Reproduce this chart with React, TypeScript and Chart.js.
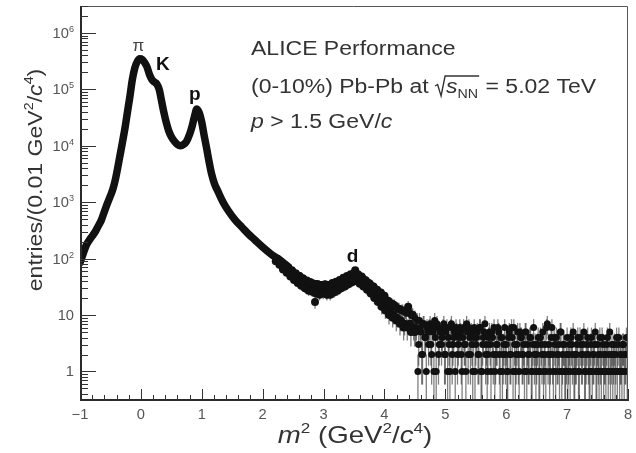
import React, { useEffect, useRef } from "react";
import { Chart, registerables } from "chart.js";

Chart.register(...registerables);

const FONT = "'Liberation Sans', Arial, Helvetica, sans-serif";

// smooth high-statistics part of the m^2 distribution
const mainX = [-1.0, -0.95, -0.9, -0.85, -0.8, -0.75, -0.7, -0.65, -0.6, -0.55, -0.5, -0.46, -0.42, -0.38, -0.34, -0.3, -0.26, -0.22, -0.18, -0.14, -0.1, -0.06, -0.02, 0.02, 0.06, 0.1, 0.14, 0.18, 0.22, 0.26, 0.3, 0.34, 0.38, 0.42, 0.46, 0.5, 0.55, 0.6, 0.65, 0.7, 0.75, 0.8, 0.84, 0.88, 0.92, 0.96, 1.0, 1.04, 1.08, 1.12, 1.16, 1.21, 1.26, 1.35, 1.43, 1.55, 1.66, 1.77, 1.87, 2.0, 2.14, 2.28, 2.42];
const mainY = [85, 120, 170, 210, 250, 300, 380, 480, 680, 950, 1300, 1700, 2500, 4100, 7000, 12000, 21000, 40000, 75000, 150000, 240000, 310000, 350000, 340000, 300000, 250000, 185000, 150000, 135000, 125000, 100000, 62000, 38000, 25000, 18000, 14500, 12000, 10500, 10000, 10500, 12000, 16000, 22000, 33000, 45000, 38000, 26000, 15000, 9000, 5200, 3200, 2100, 1600, 1000, 720, 480, 360, 270, 215, 160, 120, 95, 72];

// lower-statistics region around the deuteron peak (two interleaved bin sets)
const midX = [2.3, 2.33, 2.36, 2.39, 2.42, 2.45, 2.48, 2.51, 2.54, 2.57, 2.6, 2.63, 2.66, 2.69, 2.72, 2.75, 2.78, 2.81, 2.84, 2.86, 2.87, 2.9, 2.93, 2.96, 2.99, 3.02, 3.05, 3.08, 3.11, 3.14, 3.17, 3.2, 3.23, 3.26, 3.29, 3.32, 3.35, 3.38, 3.41, 3.44, 3.47, 3.5, 3.52, 3.55, 3.58, 3.61, 3.64, 3.67, 3.7, 3.73, 3.76, 3.79, 3.82, 3.85, 3.88, 3.91, 3.94, 3.97, 4.0, 4.03, 4.06, 4.09, 4.12, 4.15, 4.18, 4.21, 4.24, 4.27, 4.3, 4.33, 4.36, 4.39, 4.42, 4.45, 4.48];
const midY = [80, 68, 76, 61, 68, 54, 62, 48, 55, 43, 49, 38, 45, 32, 40, 31, 38, 27, 36, 17, 28, 35, 25, 34, 26, 33, 24, 32, 23, 31, 25, 35, 27, 37, 30, 40, 32, 44, 35, 47, 38, 54, 62, 43, 50, 38, 45, 34, 40, 29, 36, 26, 32, 22, 28, 19, 25, 16, 22, 14, 18, 12, 16, 10, 14, 9, 13, 8, 12, 7, 11, 14, 7, 10, 6];
const mid2X = [2.215, 2.245, 2.275, 2.305, 2.335, 2.365, 2.395, 2.425, 2.455, 2.485, 2.515, 2.545, 2.575, 2.605, 2.635, 2.665, 2.695, 2.725, 2.755, 2.785, 2.815, 2.845, 2.875, 2.905, 2.935, 2.965, 2.995, 3.025, 3.055, 3.085, 3.115, 3.145, 3.175, 3.205, 3.235, 3.265, 3.295, 3.325, 3.355, 3.385, 3.415, 3.445, 3.475, 3.505, 3.535, 3.565, 3.595, 3.625, 3.655, 3.685, 3.715, 3.745, 3.775, 3.805, 3.835, 3.865, 3.895, 3.925, 3.955, 3.985, 4.015, 4.045, 4.075, 4.105, 4.135, 4.165, 4.195, 4.225, 4.255, 4.285, 4.315, 4.345, 4.375, 4.405, 4.435, 4.465, 4.495];
const mid2Y = [90, 100, 78, 86, 64, 77, 56, 69, 48, 60, 42, 54, 37, 49, 33, 44, 30, 41, 27, 38, 26, 36, 24, 35, 23, 34, 24, 35, 23, 34, 25, 37, 26, 39, 29, 42, 32, 46, 34, 49, 37, 53, 41, 56, 40, 53, 36, 48, 32, 42, 28, 37, 24, 32, 20, 28, 17, 24, 14, 21, 12, 18, 10, 16, 9, 15, 8, 13, 7, 12, 6, 12, 6, 11, 5, 10, 5];

// sparse tail (integer counts): two interleaved bin sets starting at 4.50 / 4.5125, step 0.025
const tailStart = 4.5;
const tail2Start = 4.5125;
const tailStep = 0.025;
const tailY = [
  9, 6, 1, 8, 5, 2, 7, 4, 6, 3,
  7, 2, 5, 8, 1, 6, 3, 5, 4, 7,
  2, 6, 4, 1, 7, 3, 5, 6, 2, 4,
  5, 1, 6, 3, 7, 2, 4, 5, 1, 6,
  3, 5, 2, 6, 1, 4, 7, 3, 2, 5,
  1, 4, 6, 2, 3, 5, 1, 4, 2, 6,
  3, 1, 5, 2, 4, 6, 1, 3, 2, 5,
  4, 2, 1, 5, 3, 2, 4, 1, 6, 3,
  2, 4, 1, 3, 5, 2, 1, 7, 3, 2,
  6, 1, 3, 4, 2, 1, 5, 2, 3, 1,
  4, 2, 1, 3, 5, 1, 2, 4, 1, 3,
  2, 5, 1, 3, 2, 1, 4, 2, 3, 1,
  3, 1, 2, 4, 1, 2, 3, 1, 5, 2,
  1, 3, 2, 1, 4, 2, 1, 3, 2, 4,
];
const tail2Y = [
  5, 8, 3, 6, 2, 7, 4, 1, 5, 6,
  3, 6, 1, 4, 7, 2, 5, 3, 6, 2,
  5, 1, 3, 6, 2, 4, 1, 5, 3, 6,
  2, 4, 3, 1, 5, 6, 2, 3, 4, 1,
  4, 2, 6, 1, 3, 5, 2, 1, 4, 3,
  5, 2, 1, 3, 6, 2, 4, 1, 3, 2,
  1, 4, 2, 6, 1, 3, 2, 5, 1, 4,
  2, 3, 5, 1, 2, 4, 1, 3, 2, 1,
  3, 1, 4, 2, 1, 3, 6, 2, 1, 4,
  2, 4, 1, 2, 3, 5, 1, 3, 1, 2,
  1, 3, 4, 2, 1, 2, 3, 1, 4, 2,
  3, 1, 2, 4, 1, 3, 1, 2, 5, 1,
  2, 4, 1, 3, 2, 1, 4, 2, 1, 3,
  2, 1, 4, 3, 1, 2, 3, 1, 2, 1,
];

const xTickValues = [-1, 0, 1, 2, 3, 4, 5, 6, 7, 8];
const xTickLabels = ["\u22121", "0", "1", "2", "3", "4", "5", "6", "7", "8"];
const yTickValues = [1, 10, 100, 1000, 10000, 100000, 1000000];
const yTickBase = ["1", "10", "10", "10", "10", "10", "10"];
const yTickExp = ["", "", "2", "3", "4", "5", "6"];

const peakNames = ["\u03c0", "K", "p", "d"];
const peakX = [-0.04, 0.36, 0.885, 3.475];
const peakY = [590000, 270000, 81000, 107];
const peakBold = [false, true, true, true];

const X_MIN = -1;
const X_MAX = 8;
const Y_MIN = 0.32;
const Y_MAX = 3e6;

type Seg = { t: string; it?: boolean; b?: boolean; sup?: boolean; sub?: boolean };

function segFont(s: Seg, size: number) {
  const sz = s.sup || s.sub ? size * 0.62 : size;
  return `${s.it ? "italic " : ""}${s.b ? "bold " : ""}${sz}px ${FONT}`;
}
function measureRich(ctx: CanvasRenderingContext2D, segs: Seg[], size: number) {
  let w = 0;
  for (const s of segs) {
    ctx.font = segFont(s, size);
    w += ctx.measureText(s.t).width;
  }
  return w;
}
function drawRich(
  ctx: CanvasRenderingContext2D,
  segs: Seg[],
  x: number,
  y: number,
  size: number,
  align: "left" | "center" | "right",
  color: string,
  sx = 1
) {
  const w = measureRich(ctx, segs, size) * sx;
  const x0 = align === "left" ? x : align === "center" ? x - w / 2 : x - w;
  ctx.save();
  ctx.translate(x0, y);
  ctx.scale(sx, 1);
  ctx.textAlign = "left";
  ctx.textBaseline = "alphabetic";
  ctx.fillStyle = color;
  let cx = 0;
  for (const s of segs) {
    ctx.font = segFont(s, size);
    const dy = s.sup ? -size * 0.42 : s.sub ? size * 0.25 : 0;
    ctx.fillText(s.t, cx, dy);
    cx += ctx.measureText(s.t).width;
  }
  ctx.restore();
  return x0 + cx * sx;
}

const decorPlugin = {
  id: "decor",
  beforeDatasetsDraw(chart: any) {
    const ctx: CanvasRenderingContext2D = chart.ctx;
    const xs = chart.scales.x;
    const ys = chart.scales.y;
    const area = chart.chartArea;
    ctx.save();
    ctx.beginPath();
    ctx.rect(area.left, area.top, area.right - area.left, area.bottom - area.top);
    ctx.clip();
    ctx.strokeStyle = "rgba(50,50,50,0.62)";
    ctx.lineWidth = 1.3;
    const bar = (xv: number, n: number) => {
      const e = Math.sqrt(n);
      const lo = n - e;
      const px = xs.getPixelForValue(xv);
      const yLo = lo <= Y_MIN ? area.bottom : ys.getPixelForValue(lo);
      const yHi = ys.getPixelForValue(n + e);
      ctx.beginPath();
      ctx.moveTo(px, yLo);
      ctx.lineTo(px, yHi);
      ctx.stroke();
    };
    midX.forEach((xv, i) => bar(xv, midY[i]));
    mid2X.forEach((xv, i) => bar(xv, mid2Y[i]));
    tailY.forEach((n, i) => bar(tailStart + i * tailStep, n));
    tail2Y.forEach((n, i) => bar(tail2Start + i * tailStep, n));
    ctx.restore();
  },
  afterDraw(chart: any) {
    const ctx: CanvasRenderingContext2D = chart.ctx;
    const xs = chart.scales.x;
    const ys = chart.scales.y;
    const { left, right, top, bottom } = chart.chartArea;
    ctx.save();

    // frame
    ctx.strokeStyle = "#555";
    ctx.lineWidth = 1;
    ctx.beginPath();
    ctx.moveTo(left, top + 0.5);
    ctx.lineTo(right - 0.5, top + 0.5);
    ctx.lineTo(right - 0.5, bottom);
    ctx.stroke();
    ctx.strokeStyle = "#2a2a2a";
    ctx.lineWidth = 2;
    ctx.beginPath();
    ctx.moveTo(left + 1, top);
    ctx.lineTo(left + 1, bottom - 1);
    ctx.lineTo(right, bottom - 1);
    ctx.stroke();

    // y ticks (log)
    ctx.strokeStyle = "#333";
    ctx.lineWidth = 1;
    for (let d = -1; d <= 6; d++) {
      for (let k = 1; k <= 9; k++) {
        const v = k * Math.pow(10, d);
        if (v < Y_MIN || v > Y_MAX) continue;
        const py = Math.round(ys.getPixelForValue(v)) + 0.5;
        const len = k === 1 ? 16 : 8;
        ctx.beginPath();
        ctx.moveTo(left, py);
        ctx.lineTo(left + len, py);
        ctx.stroke();
      }
    }
    // x ticks
    for (let i = 0; i <= 45; i++) {
      const v = X_MIN + i * 0.2;
      const px = Math.round(xs.getPixelForValue(v)) + 0.5;
      const len = i % 5 === 0 ? 12 : 6;
      ctx.beginPath();
      ctx.moveTo(px, bottom);
      ctx.lineTo(px, bottom - len);
      ctx.stroke();
    }

    // tick labels
    xTickValues.forEach((v, i) => {
      const px = xs.getPixelForValue(v);
      drawRich(ctx, [{ t: xTickLabels[i] }], px, bottom + 18, 14, "center", "#555", 1.05);
    });
    yTickValues.forEach((v, i) => {
      const py = ys.getPixelForValue(v);
      const segs: Seg[] = [{ t: yTickBase[i] }];
      if (yTickExp[i]) segs.push({ t: yTickExp[i], sup: true });
      drawRich(ctx, segs, left - 6, py + 5, 14, "right", "#555", 1.05);
    });

    // axis titles
    drawRich(
      ctx,
      [{ t: "m", it: true }, { t: "2", sup: true }, { t: " (GeV" }, { t: "2", sup: true }, { t: "/" }, { t: "c", it: true }, { t: "4", sup: true }, { t: ")" }],
      355,
      443,
      24,
      "center",
      "#333",
      1.15
    );
    ctx.save();
    ctx.translate(0, 180);
    ctx.rotate(-Math.PI / 2);
    drawRich(
      ctx,
      [{ t: "entries/(0.01 GeV" }, { t: "2", sup: true }, { t: "/" }, { t: "c", it: true }, { t: "4", sup: true }, { t: ")" }],
      0,
      42,
      21,
      "center",
      "#333",
      1.1
    );
    ctx.restore();

    // annotation text
    const tx = 251;
    const fs = 20;
    const sx = 1.15;
    drawRich(ctx, [{ t: "ALICE Performance" }], tx, 55, fs, "left", "#333", sx);
    const cx = drawRich(ctx, [{ t: "(0-10%) Pb-Pb at " }], tx, 93, fs, "left", "#333", sx);
    const by = 93;
    ctx.strokeStyle = "#333";
    ctx.lineWidth = 1.4;
    ctx.beginPath();
    ctx.moveTo(cx, by - 7);
    ctx.lineTo(cx + 2.5, by - 8.5);
    ctx.lineTo(cx + 6, by + 3);
    ctx.lineTo(cx + 10, by - 17);
    const sStart = cx + 11;
    const sEnd = drawRich(ctx, [{ t: "s", it: true }, { t: "NN", sub: true }], sStart, by, fs, "left", "#333", sx);
    ctx.lineTo(sEnd + 1, by - 17);
    ctx.stroke();
    drawRich(ctx, [{ t: " = 5.02 TeV" }], sEnd + 1, by, fs, "left", "#333", sx);
    drawRich(ctx, [{ t: "p", it: true }, { t: " > 1.5 GeV/" }, { t: "c", it: true }], tx, 128, fs, "left", "#333", sx);

    // particle labels
    peakNames.forEach((name, i) => {
      const px = xs.getPixelForValue(peakX[i]);
      const py = ys.getPixelForValue(peakY[i]);
      ctx.font = `${peakBold[i] ? "bold " : ""}${peakBold[i] ? 19 : 17}px ${FONT}`;
      ctx.fillStyle = peakBold[i] ? "#111" : "#444";
      ctx.textAlign = "center";
      ctx.textBaseline = "middle";
      ctx.fillText(name, px, py);
    });

    ctx.restore();
  },
};

export default function App() {
  const ref = useRef<HTMLCanvasElement | null>(null);
  useEffect(() => {
    if (!ref.current) return;
    const mainData = mainX.map((x, i) => ({ x, y: mainY[i] }));
    const midData = midX.map((x, i) => ({ x, y: midY[i] })).concat(mid2X.map((x, i) => ({ x, y: mid2Y[i] })));
    const tailData = tailY
      .map((y, i) => ({ x: tailStart + i * tailStep, y }))
      .concat(tail2Y.map((y, i) => ({ x: tail2Start + i * tailStep, y })));
    const chart = new Chart(ref.current, {
      type: "scatter",
      data: {
        datasets: [
          {
            data: mainData,
            showLine: true,
            borderColor: "#111",
            borderWidth: 7.5,
            borderCapStyle: "round",
            borderJoinStyle: "round",
            cubicInterpolationMode: "monotone",
            pointRadius: 0,
            fill: false,
          } as any,
          {
            data: midData,
            pointRadius: 4,
            backgroundColor: "#111",
            borderWidth: 0,
          },
          {
            data: tailData,
            pointRadius: 3.5,
            backgroundColor: "#111",
            borderWidth: 0,
          },
        ],
      },
      options: {
        responsive: false,
        animation: false,
        devicePixelRatio: 1,
        layout: { padding: { top: 6, right: 8, left: 0, bottom: 0 } },
        plugins: { legend: { display: false }, tooltip: { enabled: false } },
        scales: {
          x: {
            type: "linear",
            min: X_MIN,
            max: X_MAX,
            grid: { display: false },
            border: { display: false },
            ticks: { display: false },
            afterFit: (s: any) => {
              s.height = 52;
            },
          },
          y: {
            type: "logarithmic",
            min: Y_MIN,
            max: Y_MAX,
            grid: { display: false },
            border: { display: false },
            ticks: { display: false },
            afterFit: (s: any) => {
              s.width = 80;
            },
          },
        },
      },
      plugins: [decorPlugin],
    });
    return () => chart.destroy();
  }, []);
  return (
    <div style={{ position: "absolute", left: 0, top: 0, width: 636, height: 453, background: "#fff" }}>
      <canvas ref={ref} width={636} height={453} />
    </div>
  );
}
